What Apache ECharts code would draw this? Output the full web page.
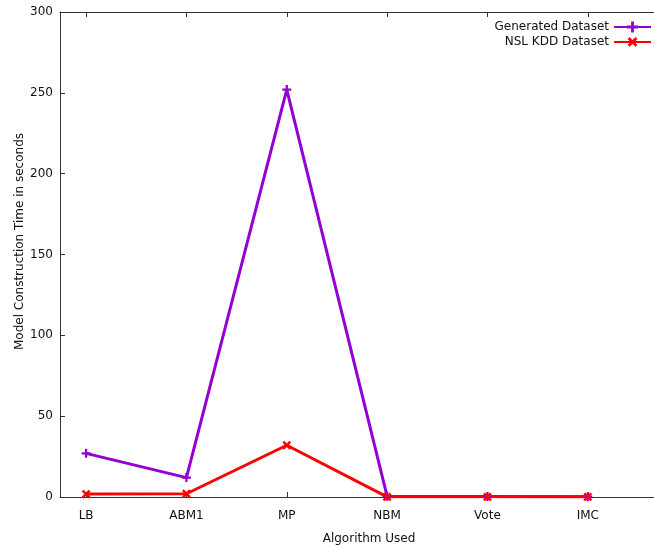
<!DOCTYPE html>
<html>
<head>
<meta charset="utf-8">
<script src="https://cdn.jsdelivr.net/npm/echarts@6/dist/echarts.min.js"></script>
<style>
html, body { margin: 0; padding: 0; background: #fff; }
#chart { width: 654px; height: 548px; }
</style>
</head>
<body>
<div id="chart"></div>
<script>
// data
const categories = ['LB', 'ABM1', 'MP', 'NBM', 'Vote', 'IMC']
const generated = [27, 12, 252, 0.5, 0.3, 0.2]
const nslKdd = [1.8, 2, 32, 0.1, 0.1, 0.1]
const yTicks = [0, 50, 100, 150, 200, 250, 300]

const idx = categories.map((c, i) => i)
const toPoints = vals => vals.map((v, i) => [i, v])

const plus = 'path://M3,0h2v3h3v2h-3v3h-2v-3h-3v-2h3z'
const font = 'DejaVu Sans'

const chart = echarts.init(document.getElementById('chart'))
chart.setOption({
  animation: false,
  grid: { left: 60, right: 0, top: 12, bottom: 51, outerBoundsMode: 'none', containLabel: false },
  legend: {
    orient: 'vertical',
    right: -3,
    top: 16,
    align: 'right',
    itemWidth: 37,
    itemHeight: 14,
    itemGap: 1,
    textStyle: { fontFamily: font, fontSize: 12, color: '#111' },
    data: ['Generated Dataset', 'NSL KDD Dataset']
  },
  xAxis: [
    {
      type: 'value',
      min: -0.26,
      max: 5.66,
      name: 'Algorithm Used',
      nameLocation: 'middle',
      nameGap: 36,
      nameMoveOverlap: false,
      nameTextStyle: { fontFamily: font, fontSize: 12, color: '#111', padding: [0, 0, 0, 24] },
      axisLine: { onZero: false, lineStyle: { color: '#333' } },
      axisTick: { inside: true, length: 5, customValues: idx, lineStyle: { color: '#333' } },
      axisLabel: {
        customValues: idx,
        margin: 13,
        fontFamily: font,
        fontSize: 12,
        color: '#111',
        formatter: v => categories[Math.round(v)]
      },
      splitLine: { show: false }
    },
    {
      type: 'value',
      position: 'top',
      min: -0.26,
      max: 5.66,
      axisLine: { show: true, onZero: false, lineStyle: { color: '#333' } },
      axisTick: { inside: true, length: 5, customValues: idx, lineStyle: { color: '#333' } },
      axisLabel: { show: false },
      splitLine: { show: false }
    }
  ],
  yAxis: {
    type: 'value',
    min: 0,
    max: 300,
    interval: 50,
    name: 'Model Construction Time in seconds',
    nameLocation: 'middle',
    nameGap: 34,
    nameMoveOverlap: false,
    nameTextStyle: { fontFamily: font, fontSize: 12, color: '#111', padding: [0, 0, 0, 26] },
    axisLine: { show: true, onZero: false, lineStyle: { color: '#333' } },
    axisTick: { inside: true, length: 5, lineStyle: { color: '#333' } },
    axisLabel: { fontFamily: font, fontSize: 12, color: '#111', margin: 7, customValues: yTicks },
    splitLine: { show: false }
  },
  series: [
    {
      name: 'Generated Dataset',
      type: 'line',
      data: toPoints(generated),
      symbol: plus,
      symbolSize: 9,
      color: '#9400d3',
      lineStyle: { width: 3 },
      itemStyle: { color: '#9400d3' }
    },
    {
      name: 'NSL KDD Dataset',
      type: 'line',
      data: toPoints(nslKdd),
      symbol: plus,
      symbolSize: 10,
      symbolRotate: 45,
      color: '#ff0000',
      lineStyle: { width: 3 },
      itemStyle: { color: '#ff0000' }
    }
  ]
})
</script>
</body>
</html>
